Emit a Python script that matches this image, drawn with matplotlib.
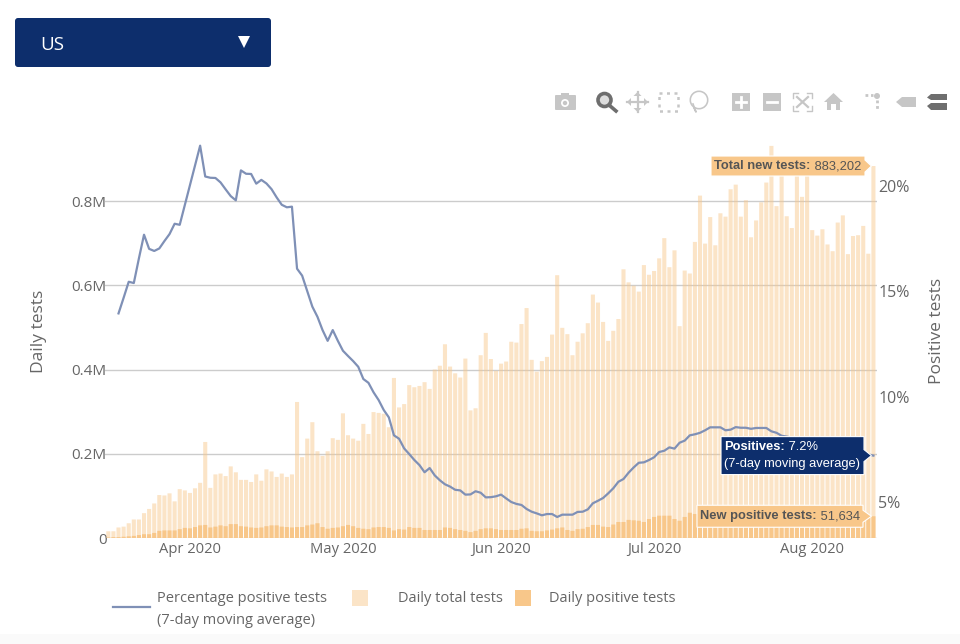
import pandas as pd
import matplotlib
matplotlib.use("Agg")
import matplotlib.pyplot as plt
from matplotlib.patches import Polygon, Rectangle, FancyBboxPatch, Circle, Wedge

# Daily values (thousands of tests)
dates = pd.date_range("2020-03-16", periods=151)

daily_total = [
    16, 16, 25, 27, 35, 44, 44, 59, 69, 82, 102, 101, 106, 87, 116, 113, 107, 118, 131, 228,
    119, 151, 153, 147, 170, 156, 138, 138, 133, 151, 136, 163, 158, 145, 153, 145, 151, 323, 192, 236,
    275, 206, 195, 206, 237, 233, 296, 244, 236, 231, 271, 247, 299, 297, 295, 263, 380, 310, 318, 363,
    358, 361, 370, 354, 400, 409, 460, 407, 391, 381, 426, 303, 308, 434, 487, 425, 397, 414, 419, 466,
    464, 508, 546, 423, 395, 420, 430, 483, 624, 499, 484, 434, 466, 486, 510, 578, 559, 513, 468, 492,
    520, 638, 607, 599, 585, 648, 625, 634, 664, 712, 643, 683, 503, 635, 628, 703, 813, 699, 762, 695,
    771, 763, 828, 839, 763, 802, 714, 754, 797, 844, 931, 788, 875, 764, 736, 880, 810, 865, 731, 718,
    733, 697, 681, 749, 766, 674, 717, 719, 741, 675, 883.202,
]

daily_positive = [
    1, 2, 2, 3, 4, 5, 7, 9, 9, 12, 17, 18, 18, 18, 21, 24, 23, 26, 30, 31,
    25, 27, 30, 28, 33, 33, 28, 27, 25, 24, 25, 28, 30, 30, 27, 26, 25, 26, 26, 30,
    32, 35, 26, 22, 24, 25, 28, 31, 28, 24, 22, 21, 25, 26, 26, 24, 18, 21, 20, 26,
    24, 24, 19, 19, 19, 19, 25, 24, 21, 19, 17, 14, 17, 21, 23, 23, 21, 19, 19, 19,
    19, 22, 23, 17, 16, 16, 18, 20, 23, 25, 19, 17, 21, 22, 26, 31, 31, 27, 26, 32,
    38, 38, 43, 42, 41, 38, 45, 50, 53, 53, 53, 45, 41, 50, 60, 57, 61, 64, 68, 62,
    58, 64, 66, 67, 64, 63, 70, 72, 74, 68, 60, 66, 69, 75, 70, 66, 62, 63, 68, 72,
    66, 55, 58, 64, 60, 52, 56, 58, 60, 54, 51.634,
]

# 7-day moving average of the positive share, starts on the third day
positive_pct = [
    13.94, 14.68, 15.44, 15.38, 16.55, 17.67, 17.0, 16.9, 17.02, 17.37, 17.7, 18.19, 18.14, 19.08,
    20.02, 20.97, 21.89, 20.43, 20.37, 20.36, 20.15, 19.82, 19.5, 19.3, 20.72, 20.56, 20.55, 20.09,
    20.27, 20.1, 19.83, 19.44, 19.09, 18.97, 19.0, 16.06, 15.73, 15.0, 14.26, 13.78, 13.15, 12.64,
    13.15, 12.64, 12.17, 11.92, 11.68, 11.41, 10.83, 10.65, 10.2, 9.83, 9.36, 9.01, 8.16, 8.0,
    7.54, 7.27, 6.99, 6.75, 6.41, 6.61, 6.26, 6.03, 5.84, 5.73, 5.58, 5.55, 5.35, 5.36,
    5.51, 5.44, 5.22, 5.23, 5.27, 5.35, 5.17, 5.0, 4.91, 4.86, 4.67, 4.54, 4.46, 4.37,
    4.43, 4.43, 4.29, 4.40, 4.40, 4.40, 4.53, 4.54, 4.65, 4.94, 5.06, 5.19, 5.41, 5.65,
    5.96, 6.09, 6.39, 6.64, 6.86, 6.88, 6.99, 7.12, 7.37, 7.43, 7.59, 7.53, 7.81, 7.91,
    8.16, 8.21, 8.28, 8.40, 8.54, 8.54, 8.54, 8.40, 8.43, 8.55, 8.52, 8.52, 8.47, 8.51,
    8.51, 8.51, 8.35, 8.28, 8.14, 8.1, 8.05, 8.0, 7.95, 7.9, 7.9, 7.85, 7.8, 7.75,
    7.75, 7.7, 7.6, 7.5, 7.45, 7.35, 7.3, 7.25, 7.2,
]

left_ticks = [0, 200, 400, 600, 800]
left_labels = ["0", "0.2M", "0.4M", "0.6M", "0.8M"]
right_ticks = [5, 10, 15, 20]
right_labels = ["5%", "10%", "15%", "20%"]
month_ticks = pd.to_datetime(["2020-04-01", "2020-05-01", "2020-06-01", "2020-07-01", "2020-08-01"])
month_labels = ["Apr 2020", "May 2020", "Jun 2020", "Jul 2020", "Aug 2020"]

W, H = 960, 644
GREY = "#666666"
NAVY = "#0d2e6c"
ORANGE = "#f8c78a"
LINE = "#7f90b6"
ICON = "#c6c6c6"
ICON_DARK = "#6e6e6e"
FONT = "Open Sans"
TIP_FONT = "Liberation Sans"
plt.rcParams["font.family"] = FONT

fig = plt.figure(figsize=(W / 100, H / 100), dpi=100)
ax = fig.add_axes([105 / W, 1 - 538 / H, (877 - 105) / W, (538 - 140) / H])

# bars on the left axis
total_bars = ax.bar(dates, daily_total, width=0.8, color=ORANGE, alpha=0.48, zorder=2)
positive_bars = ax.bar(dates, daily_positive, width=0.8, color=ORANGE, zorder=3)
for b in list(total_bars) + list(positive_bars):
    b.set_snap(False)
ax.set_ylim(0, 945)
ax.set_xlim(dates[0] - pd.Timedelta(days=0.65), dates[-1] + pd.Timedelta(days=0.7))
ax.set_yticks(left_ticks, left_labels)
ax.set_xticks(month_ticks, month_labels)
ax.grid(axis="y", color="#cccccc", linewidth=1, zorder=1)
ax.set_axisbelow(True)
ax.tick_params(length=0, labelcolor=GREY, labelsize=11)
ax.tick_params(axis="x", pad=3, labelsize=10.6)
ax.tick_params(axis="y", pad=-1)
for s in ax.spines.values():
    s.set_visible(False)

# line on the right axis
ax2 = ax.twinx()
ax2.plot(dates[2:], positive_pct, color=LINE, linewidth=1.6, zorder=4)
ax2.set_ylim(3.294, 22.16)
ax2.set_yticks(right_ticks, right_labels)
ax2.tick_params(length=0, labelcolor=GREY, labelsize=11.5, pad=1)
for s in ax2.spines.values():
    s.set_visible(False)

# overlay in image pixels for the page furniture
ov = fig.add_axes([0, 0, 1, 1], zorder=10)
ov.set_xlim(0, W)
ov.set_ylim(H, 0)
ov.axis("off")
ov.patch.set_alpha(0)

ov.text(39, 331, "Daily tests", rotation=90, ha="center", va="center", color=GREY, fontsize=12.5)
ov.text(937, 331, "Positive tests", rotation=90, ha="center", va="center", color=GREY, fontsize=12.5)

# dropdown
ov.add_patch(FancyBboxPatch((18, 21), 250, 43, boxstyle="round,pad=3", facecolor=NAVY, edgecolor="none"))
ov.text(40, 45, "US", color="white", fontsize=13.5, va="center")
ov.add_patch(Polygon([(238, 36), (250, 36), (244, 48)], facecolor="white", edgecolor="none"))

# bottom page shade
ov.add_patch(Rectangle((0, 634), W, 10, facecolor="#fafafa", edgecolor="none"))

# legend
ov.plot([113, 150], [607, 607], color=LINE, linewidth=1.6)
ov.text(157, 599, "Percentage positive tests", color=GREY, fontsize=10.55, va="center")
ov.text(157, 620, "(7-day moving average)", color=GREY, fontsize=10.55, va="center")
ov.add_patch(Rectangle((352, 590), 16, 16, facecolor=ORANGE, alpha=0.48, edgecolor="none"))
ov.text(398, 599, "Daily total tests", color=GREY, fontsize=10.55, va="center")
ov.add_patch(Rectangle((515, 590), 16, 16, facecolor=ORANGE, edgecolor="none"))
ov.text(549, 599, "Daily positive tests", color=GREY, fontsize=10.55, va="center")


def tooltip(axis, xval, yval, x0, x1, half, lines, fill, txt):
    # box with a pointer at the last data point, box edges in image pixels
    px = axis.transData.transform((matplotlib.dates.date2num(xval), yval))
    tip_x, tip_y = px[0] - 2, H - px[1]
    pts = [(x0, tip_y - half), (x1, tip_y - half), (x1, tip_y - 6), (tip_x, tip_y),
           (x1, tip_y + 6), (x1, tip_y + half), (x0, tip_y + half)]
    ov.add_patch(Polygon(pts, facecolor=fill, edgecolor="white", linewidth=0.8))
    rend = fig.canvas.get_renderer()
    n = len(lines)
    for k, (bold, rest) in enumerate(lines):
        y = tip_y + (k - (n - 1) / 2) * 17
        tx = x0 + 3.5
        if bold:
            t = ov.text(tx, y, bold, color=txt, fontsize=9.3, fontweight="bold", va="center", family=TIP_FONT)
            tx += t.get_window_extent(rend).width
        ov.text(tx, y, rest, color=txt, fontsize=9.3, va="center", family=TIP_FONT)


tooltip(ax, dates[-1], daily_total[-1], 711, 865, 10,
        [("Total new tests:", " 883,202")], ORANGE, "#555555")
tooltip(ax, dates[-1], daily_positive[-1], 697, 863, 11,
        [("New positive tests:", " 51,634")], ORANGE, "#555555")
tooltip(ax2, dates[-1], positive_pct[-1], 721, 864, 19,
        [("Positives:", " 7.2%"), ("", "(7-day moving average)")], NAVY, "white")

# modebar icons, drawn roughly
ov.add_patch(FancyBboxPatch((556, 96), 19, 13, boxstyle="round,pad=1", facecolor=ICON, edgecolor="none"))
ov.add_patch(Rectangle((561, 93), 8, 3, facecolor=ICON, edgecolor="none"))
ov.add_patch(Circle((565, 103), 4, facecolor="white", edgecolor="none"))
ov.add_patch(Circle((565, 103), 2.2, facecolor=ICON, edgecolor="none"))

ov.add_patch(Circle((604.5, 100), 6.5, facecolor="#dddddd", edgecolor=ICON_DARK, linewidth=2.6))
ov.plot([609, 616], [105, 111], color=ICON_DARK, linewidth=2.6)

ov.plot([627, 648], [102, 102], color=ICON, linewidth=1.6)
ov.plot([637.5, 637.5], [92, 112], color=ICON, linewidth=1.6)
for p in ([(627, 102), (631, 98), (631, 106)], [(648, 102), (644, 98), (644, 106)],
          [(637.5, 92), (633.5, 96), (641.5, 96)], [(637.5, 112), (633.5, 108), (641.5, 108)]):
    ov.add_patch(Polygon(p, facecolor=ICON, edgecolor="none"))

ov.add_patch(Rectangle((659, 93), 19, 18, fill=False, edgecolor=ICON, linewidth=1.8, linestyle=(0, (1.2, 1.8))))

ov.add_patch(Wedge((699, 100), 9.5, 0, 360, width=1.6, facecolor=ICON, edgecolor="none"))
ov.plot([693, 696, 694], [104, 112, 108], color=ICON, linewidth=1.2)

ov.add_patch(Rectangle((732, 93), 18, 18, facecolor=ICON, edgecolor="none"))
ov.plot([736, 746], [102, 102], color="white", linewidth=2)
ov.plot([741, 741], [97, 107], color="white", linewidth=2)
ov.add_patch(Rectangle((763, 93), 18, 18, facecolor=ICON, edgecolor="none"))
ov.plot([767, 777], [102, 102], color="white", linewidth=2)

for xs, ys in (([793, 793, 798], [98, 93, 93]), ([807, 812, 812], [93, 93, 98]),
               ([793, 793, 798], [106, 111, 111]), ([807, 812, 812], [111, 111, 106])):
    ov.plot(xs, ys, color=ICON, linewidth=1)
ov.plot([797, 808], [97, 107], color=ICON, linewidth=1.6)
ov.plot([808, 797], [97, 107], color=ICON, linewidth=1.6)

ov.add_patch(Polygon([(824, 102), (833.5, 93), (843, 102), (840, 102), (840, 110), (836, 110), (836, 104),
                      (831, 104), (831, 110), (827, 110), (827, 102)], facecolor=ICON, edgecolor="none"))

ov.plot([865, 873], [95, 95], color=ICON, linewidth=2, linestyle=(0, (1, 1)))
ov.plot([877, 877], [100, 110], color=ICON, linewidth=2, linestyle=(0, (1, 1)))
ov.add_patch(Circle((877, 96), 3, facecolor=ICON, edgecolor="none"))

ov.add_patch(Polygon([(896, 102), (902, 97), (916, 97), (916, 107), (902, 107)], facecolor=ICON, edgecolor="none"))
ov.add_patch(Polygon([(927, 97.5), (931, 94), (947, 94), (947, 100), (931, 100)], facecolor=ICON_DARK, edgecolor="none"))
ov.add_patch(Polygon([(927, 106), (931, 103), (947, 103), (947, 110), (931, 110)], facecolor=ICON_DARK, edgecolor="none"))

fig.savefig("out.png", dpi=100)
